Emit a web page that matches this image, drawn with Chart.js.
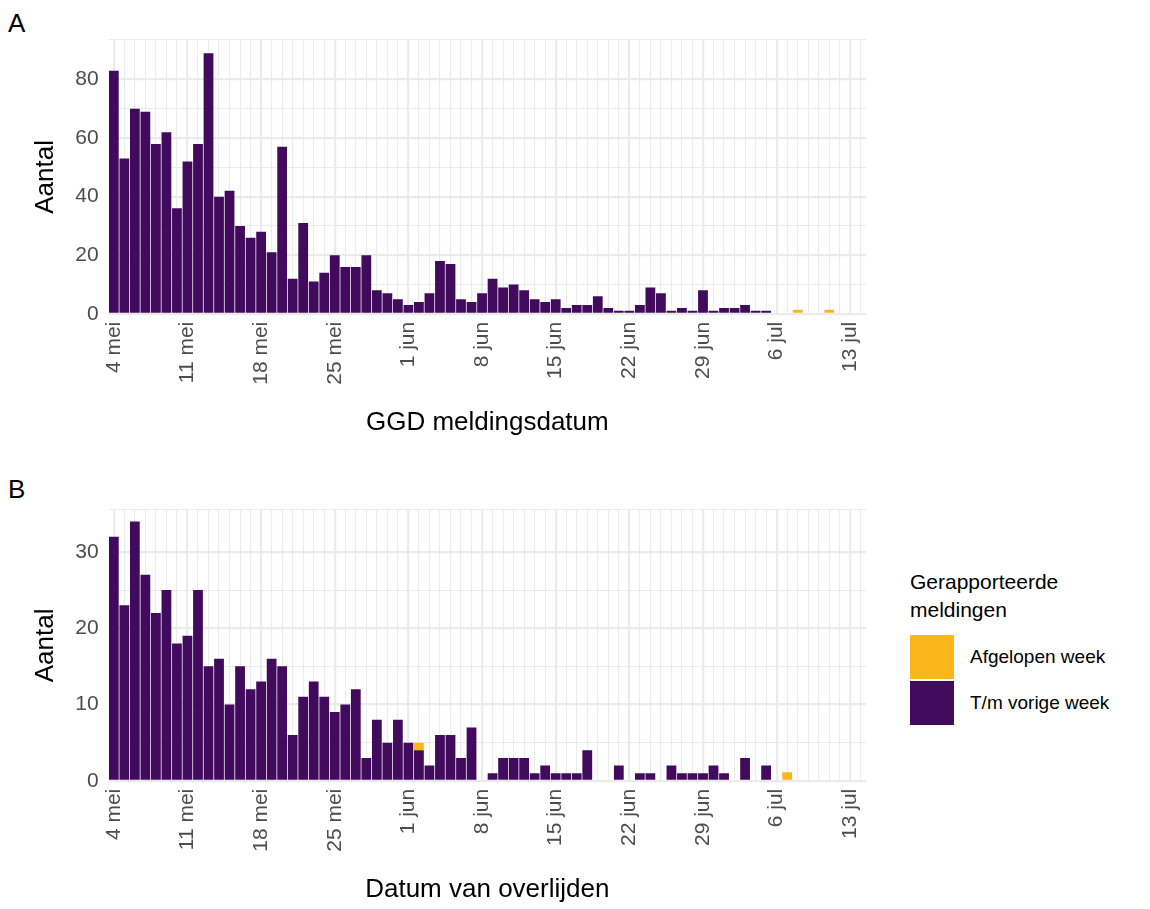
<!DOCTYPE html>
<html>
<head>
<script src="https://cdn.jsdelivr.net/npm/chart.js@4.4.0/dist/chart.umd.min.js"></script>
<style>
  body { margin: 0; background: #fff; font-family: "Liberation Sans", Arial, sans-serif; }
  .panel { position: absolute; left: 0; width: 894px; }
  .tag { position: absolute; left: 8px; font-size: 26px; color: #000; }
  #legend { position: absolute; left: 910px; top: 568px; font-size: 21px; color: #000; }
  .item { display: flex; align-items: center; height: 46px; font-size: 19px; }
  .sw { width: 44px; height: 44px; margin-right: 16px; }
</style>
</head>
<body>
<div class="tag" style="top:8px">A</div>
<div class="tag" style="top:474px">B</div>
<div class="panel" style="top:0;height:442px"><canvas id="chartA"></canvas></div>
<div class="panel" style="top:465px;height:444px"><canvas id="chartB"></canvas></div>
<div id="legend">
  <div style="line-height:28px;margin-bottom:10px">Gerapporteerde<br>meldingen</div>
  <div class="item"><div class="sw" style="background:#fbb61a"></div>Afgelopen week</div>
  <div class="item"><div class="sw" style="background:#420a5d"></div>T/m vorige week</div>
</div>
<script>
  // 4 mei .. 14 jul, one label per day
  var dates = [];
  var monthNames = ["mei", "jun", "jul"];
  var monthDays = [[4, 31], [1, 30], [1, 14]];
  for (var m = 0; m < 3; m++) {
    for (var d = monthDays[m][0]; d <= monthDays[m][1]; d++) dates.push(d + " " + monthNames[m]);
  }

  // panel A: GGD meldingsdatum
  var aPrev = [83,53,70,69,58,62,36,52,58,89,40,42,30,26,28,21,57,12,31,11,
               14,20,16,16,20,8,7,5,3,4,7,18,17,5,4,7,12,9,10,8,
               5,4,5,2,3,3,6,2,1,1,3,9,7,1,2,1,8,1,2,2,
               3,1,1,0,0,0,0,0,0,0,0,0];
  var aLast = [0,0,0,0,0,0,0,0,0,0,0,0,0,0,0,0,0,0,0,0,
               0,0,0,0,0,0,0,0,0,0,0,0,0,0,0,0,0,0,0,0,
               0,0,0,0,0,0,0,0,0,0,0,0,0,0,0,0,0,0,0,0,
               0,0,0,0,0,1,0,0,1,0,0,0];

  // panel B: datum van overlijden
  var bPrev = [32,23,34,27,22,25,18,19,25,15,16,10,15,12,13,16,15,6,11,13,
               11,9,10,12,3,8,5,8,5,4,2,6,6,3,7,0,1,3,3,3,
               1,2,1,1,1,4,0,0,2,0,1,1,0,2,1,1,1,2,1,0,
               3,0,2,0,0,0,0,0,0,0,0,0];
  var bLast = [0,0,0,0,0,0,0,0,0,0,0,0,0,0,0,0,0,0,0,0,
               0,0,0,0,0,0,0,0,0,1,0,0,0,0,0,0,0,0,0,0,
               0,0,0,0,0,0,0,0,0,0,0,0,0,0,0,0,0,0,0,0,
               0,0,0,0,1,0,0,0,0,0,0,0];

  var purple = "#420a5d";
  var orange = "#fbb61a";
  var tickFont = { family: "Liberation Sans", size: 21 };
  var titleFont = { family: "Liberation Sans", size: 26 };

  function makeChart(id, prev, last, xTitle, yMax, yMajor, padTop) {
    new Chart(document.getElementById(id), {
      type: "bar",
      data: {
        labels: dates,
        datasets: [
          { data: prev, backgroundColor: purple, minBarLength: 1, barPercentage: 1, categoryPercentage: 0.93 },
          { data: last, backgroundColor: orange, barPercentage: 1, categoryPercentage: 0.93 }
        ]
      },
      options: {
        responsive: true,
        maintainAspectRatio: false,
        animation: false,
        layout: { padding: { top: padTop, right: 0, left: 26 } },
        plugins: { legend: { display: false }, tooltip: { enabled: false } },
        scales: {
          x: {
            stacked: true,
            grid: {
              offset: false,
              drawTicks: false,
              color: "#ebebeb",
              lineWidth: function (c) { return c.index % 7 === 0 ? 2.2 : 1.1; }
            },
            border: { display: false },
            ticks: {
              autoSkip: false,
              maxRotation: 90,
              minRotation: 90,
              color: "#4d4d4d",
              font: tickFont,
              padding: 8,
              callback: function (v, i) { return i % 7 === 0 ? dates[i] : ""; }
            },
            title: { display: true, text: xTitle, color: "#000", font: titleFont, padding: { top: 14 } }
          },
          y: {
            stacked: true,
            min: 0,
            max: yMax,
            grid: {
              drawTicks: false,
              color: "#ebebeb",
              lineWidth: function (c) { return c.tick.value % yMajor === 0 ? 2.2 : 1.1; }
            },
            border: { display: false },
            ticks: {
              stepSize: yMajor / 2,
              color: "#4d4d4d",
              font: tickFont,
              padding: 10,
              callback: function (v) { return v % yMajor === 0 ? v : ""; }
            },
            title: { display: true, text: "Aantal", color: "#000", font: titleFont, padding: { bottom: 4 } }
          }
        }
      }
    });
  }

  makeChart("chartA", aPrev, aLast, "GGD meldingsdatum", 93.5, 20, 40);
  makeChart("chartB", bPrev, bLast, "Datum van overlijden", 35.5, 10, 45);
</script>
</body>
</html>
